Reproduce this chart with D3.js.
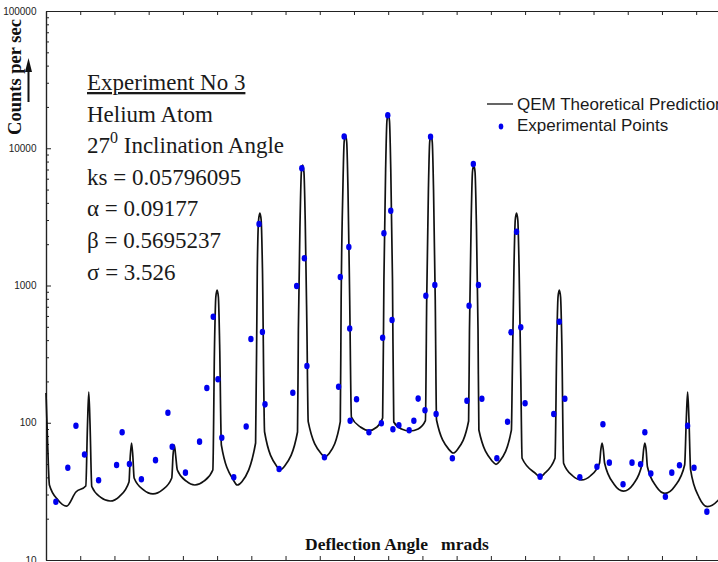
<!DOCTYPE html>
<html>
<head>
<meta charset="utf-8">
<script src="https://cdn.jsdelivr.net/npm/d3@7"></script>
<style>
body { margin: 0; background: #fff; }
svg { display: block; }
</style>
</head>
<body>
<script>
// QEM theoretical curve: [deflection angle, counts per sec]
var theory = [
	[-8.00, 164.8], [-7.97, 85.6], [-7.92, 35.2],
	[-7.72, 27.4], [-7.52, 24.7], [-7.30, 31.3],
	[-7.07, 34.6], [-7.03, 96.3], [-7.00, 167.5], [-6.97, 96.3], [-6.93, 34.3],
	[-6.72, 28.6], [-6.50, 26.9], [-6.28, 29.1],
	[-6.06, 37.0], [-6.03, 57.2], [-6.00, 71.2], [-5.97, 57.2], [-5.94, 39.6],
	[-5.72, 32.4], [-5.50, 30.3], [-5.28, 32.4],
	[-5.06, 39.6], [-5.03, 58.2], [-5.00, 68.8], [-4.97, 58.2], [-4.93, 45.3],
	[-4.72, 37.5], [-4.52, 35.2], [-4.31, 37.5],
	[-4.10, 45.3], [-4.06, 368.6], [-4.03, 824.8], [-4.00, 927], [-3.97, 824.8], [-3.94, 368.6], [-3.90, 68.8],
	[-3.62, 38.3], [-3.53, 35.2], [-3.42, 37.2],
	[-3.10, 71.2], [-3.06, 1341], [-3.03, 3001], [-3.00, 3375], [-2.97, 3001], [-2.94, 1341], [-2.89, 85.6],
	[-2.61, 48.4], [-2.52, 45.6], [-2.42, 48.4],
	[-2.12, 85.6], [-2.10, 474.1], [-2.06, 3001], [-2.03, 6714], [-2.00, 7551], [-1.97, 6714], [-1.94, 3001], [-1.90, 474.1], [-1.87, 101.8],
	[-1.57, 59.7], [-1.48, 56.6], [-1.38, 59.7],
	[-1.12, 101.8], [-1.10, 784.4], [-1.06, 4963], [-1.03, 11105], [-1.00, 12490], [-0.97, 11105], [-0.94, 4963], [-0.90, 784.4], [-0.86, 110.1],
	[-0.65, 93.1], [-0.45, 87.8], [-0.27, 92.7],
	[-0.13, 108.3], [-0.10, 1115], [-0.06, 7061], [-0.03, 15795], [0.00, 17763], [0.03, 15795], [0.06, 7061], [0.10, 1115], [0.13, 101.3],
	[0.31, 90.1], [0.51, 87.1], [0.70, 90.1],
	[0.87, 103.5], [0.90, 784.4], [0.94, 4963], [0.97, 11105], [1.00, 12490], [1.03, 11105], [1.06, 4963], [1.10, 784.4], [1.13, 104.7],
	[1.42, 63.9], [1.52, 60.2], [1.62, 63.9],
	[1.88, 103.0], [1.90, 474.1], [1.94, 3001], [1.97, 6714], [2.00, 7551], [2.03, 6714], [2.06, 3001], [2.10, 474.1], [2.12, 88.5],
	[2.43, 52.6], [2.52, 49.8], [2.61, 52.6],
	[2.88, 88.5], [2.90, 211.9], [2.94, 1341], [2.97, 3001], [3.00, 3375], [3.03, 3001], [3.06, 1341], [3.10, 211.9], [3.13, 55.1],
	[3.46, 42.3], [3.55, 40.1], [3.64, 42.3],
	[3.90, 55.1], [3.94, 368.6], [3.97, 824.8], [4.00, 927], [4.03, 824.8], [4.06, 368.6], [4.10, 50.7],
	[4.31, 41.1], [4.52, 38.3], [4.73, 41.1],
	[4.94, 50.7], [4.97, 63.3], [5.00, 71.2], [5.03, 63.3], [5.06, 50.7],
	[5.28, 35.7], [5.50, 31.8], [5.73, 35.7],
	[5.94, 50.7], [5.97, 63.3], [6.00, 71.2], [6.03, 63.3], [6.06, 47.8],
	[6.27, 34.2], [6.47, 30.6], [6.70, 34.5],
	[6.93, 49.2], [6.97, 108.3], [7.00, 167.5], [7.03, 108.3], [7.07, 45.3],
	[7.27, 28.5], [7.46, 24.5], [7.69, 26.8],
	[7.92, 35.2], [7.97, 96.3], [8.00, 167.5]
];

// experimental points: [deflection angle, counts per sec]
var experiment = [
	[-7.77, 26.6], [-7.49, 47.0], [-7.30, 95.2], [-7.10, 58.7], [-6.77, 38.1],
	[-6.35, 49.2], [-6.22, 85.2], [-6.05, 50.1], [-5.77, 38.8], [-5.44, 53.4],
	[-5.15, 118.2], [-5.05, 66.9], [-4.74, 43.3], [-4.41, 72.8], [-4.24, 179.1],
	[-4.09, 592.5], [-3.98, 207.3], [-3.89, 77.7], [-3.61, 40.1], [-3.32, 93.9],
	[-3.21, 407.6], [-3.02, 2806], [-2.94, 458.3], [-2.88, 136.2], [-2.55, 46.0],
	[-2.23, 165.5], [-2.14, 991.7], [-2.02, 7142], [-1.96, 1579], [-1.90, 259.1],
	[-1.49, 56.0], [-1.16, 182.8], [-1.12, 1153], [-1.03, 12180], [-0.92, 1908],
	[-0.90, 486], [-0.89, 103.5], [-0.74, 148.2], [-0.45, 85.2], [-0.16, 99.1],
	[-0.10, 2401], [-0.13, 415.9], [-0.01, 17385], [0.06, 3508], [0.09, 560.5],
	[0.11, 89.6], [0.25, 96.0], [0.49, 88.2], [0.60, 103.5], [0.70, 150.0],
	[0.86, 123.4], [0.88, 842.8], [0.99, 12140], [1.09, 1009], [1.12, 115.8],
	[1.50, 55.1], [1.84, 144.8], [1.89, 712.5], [1.99, 7680], [2.11, 1009],
	[2.19, 149.7], [2.54, 55.1], [2.79, 101.8], [2.87, 456], [3.00, 2466],
	[3.10, 496], [3.20, 138.6], [3.55, 40.5], [3.87, 115.8], [4.00, 545.0],
	[4.13, 149.7], [4.48, 40.1], [4.88, 47.8], [5.02, 97.4], [5.17, 51.2],
	[5.49, 35.6], [5.70, 51.2], [5.90, 49.8], [6.00, 85.3], [6.14, 42.6],
	[6.48, 28.9], [6.63, 43.3], [6.81, 49.0], [7.00, 95.2], [7.15, 47.0],
	[7.45, 22.5]
];

var yMajorTicks = [10, 100, 1000, 10000, 100000];
var yTickLabels = ["10", "100", "1000", "10000", "100000"];
var yDecades = [10, 100, 1000, 10000];
var xTicks = [-8, -7.2, -6.4, -5.6, -4.8, -4, -3.2, -2.4, -1.6, -0.8, 0,
	0.8, 1.6, 2.4, 3.2, 4, 4.8, 5.6, 6.4, 7.2, 8];

var infoLines = ["Experiment No 3", "Helium Atom", "27{0} Inclination Angle",
	"ks = 0.05796095", "α = 0.09177", "β = 0.5695237", "σ = 3.526"];
var legendLabels = ["QEM Theoretical Prediction", "Experimental Points"];
var xTitle = "Deflection Angle   mrads";
var yTitle = "Counts per sec";

var width = 718,
	height = 562;

var serif = '"Liberation Serif", "Times New Roman", serif';
var sans = '"Liberation Sans", Arial, sans-serif';
var narrow = '"Liberation Sans Narrow", "Arial Narrow", sans-serif';

var svg = d3.select("body").append("svg")
	.attr("width", width)
	.attr("height", height);

svg.append("rect")
	.attr("width", width)
	.attr("height", height)
	.attr("fill", "#fff");

var xScale = d3.scaleLinear()
	.domain([-8, 8])
	.range([46, 730.4]);

var yScale = d3.scaleLog()
	.domain([10, 100000])
	.range([560, 11]);

// minor log ticks
var yMinor = [];
yDecades.forEach(function(dec){
	for (var m = 2; m <= 9; m++){
		yMinor.push(dec * m);
	}
});

function styleAxis(g){
	g.attr("font-family", narrow).attr("font-size", 10);
	g.selectAll("line").attr("stroke", "#222");
	g.select(".domain").attr("stroke", "#222").attr("stroke-width", 1.2);
	g.selectAll("text").attr("fill", "#222");
}

svg.append("g")
	.attr("transform", "translate(" + xScale(-8) + ",0)")
	.call(d3.axisLeft(yScale)
		.tickValues(yMinor)
		.tickSize(-3)
		.tickSizeOuter(0)
		.tickFormat(""))
	.call(styleAxis);

svg.append("g")
	.attr("transform", "translate(" + xScale(-8) + ",0)")
	.call(d3.axisLeft(yScale)
		.tickValues(yMajorTicks)
		.tickSize(-5)
		.tickSizeOuter(0)
		.tickPadding(9.5)
		.tickFormat(function(d, i){ return yTickLabels[i]; }))
	.call(styleAxis);

svg.append("g")
	.attr("transform", "translate(0," + yScale(10) + ")")
	.call(d3.axisBottom(xScale)
		.tickValues(xTicks)
		.tickSize(-4)
		.tickSizeOuter(0)
		.tickFormat(""))
	.call(styleAxis);

svg.append("g")
	.attr("transform", "translate(0," + yScale(100000) + ")")
	.call(d3.axisTop(xScale)
		.tickValues(xTicks)
		.tickSize(-4)
		.tickSizeOuter(0)
		.tickFormat(""))
	.call(styleAxis);

// theoretical curve
var line = d3.line()
	.x(function(d){ return xScale(d[0]); })
	.y(function(d){ return yScale(d[1]); })
	.curve(d3.curveMonotoneX);

svg.append("path")
	.datum(theory)
	.attr("d", line)
	.attr("fill", "none")
	.attr("stroke", "#111")
	.attr("stroke-width", 1.7)
	.attr("stroke-linejoin", "round");

// experimental points
svg.selectAll(".pt")
	.data(experiment)
	.enter()
	.append("ellipse")
		.attr("class", "pt")
		.attr("cx", function(d){ return xScale(d[0]); })
		.attr("cy", function(d){ return yScale(d[1]); })
		.attr("rx", 2.7)
		.attr("ry", 3.3)
		.attr("fill", "#0000ee");

// info block
var info = svg.append("g")
	.attr("font-family", serif)
	.attr("font-size", 23)
	.attr("fill", "#1a1a1a");

infoLines.forEach(function(t, i){
	var txt = info.append("text")
		.attr("x", 87)
		.attr("y", 90 + i * 31.6);
	var parts = t.split(/[{}]/);
	if (parts.length == 3){
		txt.append("tspan").text(parts[0]);
		txt.append("tspan").attr("font-size", 16).attr("dy", -10).text(parts[1]);
		txt.append("tspan").attr("dy", 10).text(parts[2]);
	}
	else{
		txt.text(t);
	}
	if (i == 0){
		txt.attr("text-decoration", "underline");
	}
});

// legend
svg.append("line")
	.attr("x1", 487).attr("x2", 513)
	.attr("y1", 104).attr("y2", 104)
	.attr("stroke", "#111")
	.attr("stroke-width", 1.3);

svg.append("ellipse")
	.attr("cx", 501).attr("cy", 126.5)
	.attr("rx", 2.3).attr("ry", 3)
	.attr("fill", "#0000ee");

svg.selectAll(".leg")
	.data(legendLabels)
	.enter()
	.append("text")
		.attr("class", "leg")
		.attr("x", 517)
		.attr("y", function(d, i){ return 110 + i * 20.7; })
		.attr("font-family", sans)
		.attr("font-size", 17)
		.attr("fill", "#1a1a1a")
		.text(function(d){ return d; });

// axis titles
svg.append("text")
	.attr("x", 305)
	.attr("y", 550)
	.attr("font-family", serif)
	.attr("font-weight", "bold")
	.attr("font-size", 17.5)
	.attr("fill", "#111")
	.style("white-space", "pre")
	.text(xTitle);

svg.append("text")
	.attr("transform", "translate(21,77) rotate(-90)")
	.attr("text-anchor", "middle")
	.attr("font-family", serif)
	.attr("font-weight", "bold")
	.attr("font-size", 18.5)
	.attr("fill", "#111")
	.text(yTitle);

// arrow next to y title
svg.append("line")
	.attr("x1", 28.5).attr("x2", 28.5)
	.attr("y1", 102).attr("y2", 68)
	.attr("stroke", "#111")
	.attr("stroke-width", 2);

svg.append("path")
	.attr("d", "M28.5,58 L32,72 L25,72 Z")
	.attr("fill", "#111");
</script>
</body>
</html>
